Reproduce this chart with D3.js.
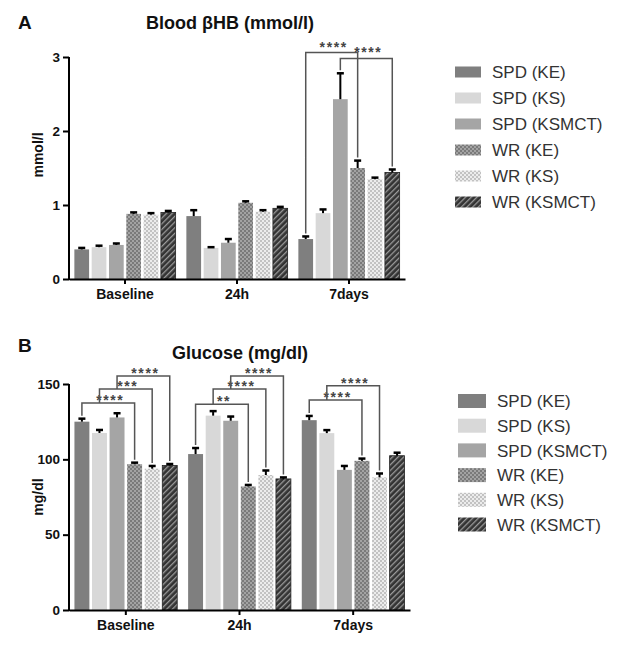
<!DOCTYPE html>
<html>
<head>
<meta charset="utf-8">
<script src="https://cdn.jsdelivr.net/npm/d3@7/dist/d3.min.js"></script>
<style>
  html, body { margin: 0; padding: 0; background: #fff; }
  svg { display: block; font-family: "Liberation Sans", Arial, sans-serif; }
</style>
</head>
<body>
<div id="chart"></div>
<script>
// ---------- DATA ----------
const groups = ["Baseline", "24h", "7days"];
const seriesNames = ["SPD (KE)", "SPD (KS)", "SPD (KSMCT)", "WR (KE)", "WR (KS)", "WR (KSMCT)"];

// Blood βHB (mmol/l): mean per series, one array per time point
const bhbBaseline    = [0.40, 0.43, 0.46, 0.88, 0.87, 0.90];
const bhbBaselineErr = [0.02, 0.02, 0.02, 0.02, 0.02, 0.02];
const bhb24h         = [0.85, 0.42, 0.49, 1.03, 0.91, 0.955];
const bhb24hErr      = [0.08, 0.01, 0.05, 0.02, 0.02, 0.02];
const bhb7days       = [0.54, 0.89, 2.43, 1.50, 1.35, 1.44];
const bhb7daysErr    = [0.035, 0.05, 0.35, 0.10, 0.02, 0.04];
const bhbTicks = [0, 1, 2, 3];

// Glucose (mg/dl)
const gluBaseline    = [125, 117.5, 127.8, 96.8, 93.8, 95.9];
const gluBaselineErr = [2, 2, 2.8, 1, 1.8, 1];
const glu24h         = [103.5, 129, 125.6, 82, 89.6, 87];
const glu24hErr      = [4, 3, 2.8, 1, 3, 1];
const glu7days       = [126, 117.4, 93, 99, 88, 102.4];
const glu7daysErr    = [2.8, 2, 2.6, 1.5, 2.6, 2];
const gluTicks = [0, 50, 100, 150];

// significance brackets: group, from-series index, to-series index, height (data units), label
const bhbBrackets = [
  { group: "7days", from: 0, to: 3, level: 3.06, label: "****" },
  { group: "7days", from: 2, to: 5, level: 2.98, label: "****" }
];
const gluBrackets = [
  { group: "Baseline", from: 0, to: 3, level: 137.4, label: "****" },
  { group: "Baseline", from: 1, to: 4, level: 146.6, label: "***" },
  { group: "Baseline", from: 2, to: 5, level: 155.3, label: "****" },
  { group: "24h", from: 0, to: 3, level: 136.5, label: "**" },
  { group: "24h", from: 1, to: 4, level: 146.6, label: "****" },
  { group: "24h", from: 2, to: 5, level: 155.3, label: "****" },
  { group: "7days", from: 0, to: 3, level: 139.3, label: "****" },
  { group: "7days", from: 1, to: 4, level: 148.8, label: "****" }
];

// ---------- STYLE ----------
const W = 626, H = 648;
const fills = ["#7f7f7f", "#d8d8d8", "#a5a5a5", "url(#patKE)", "url(#patKS)", "url(#patKSMCT)"];

const svg = d3.select("#chart").append("svg").attr("width", W).attr("height", H);
const defs = svg.append("defs");

// WR (KE): dark grey with light checker dots
let p = defs.append("pattern").attr("id", "patKE").attr("patternUnits", "userSpaceOnUse")
  .attr("width", 4).attr("height", 4);
p.append("rect").attr("width", 4).attr("height", 4).attr("fill", "#7a7a7a");
p.append("rect").attr("x", 0).attr("y", 0).attr("width", 2).attr("height", 2).attr("fill", "#a3a3a3");
p.append("rect").attr("x", 2).attr("y", 2).attr("width", 2).attr("height", 2).attr("fill", "#a3a3a3");

// WR (KS): light grey checker
p = defs.append("pattern").attr("id", "patKS").attr("patternUnits", "userSpaceOnUse")
  .attr("width", 4).attr("height", 4);
p.append("rect").attr("width", 4).attr("height", 4).attr("fill", "#ececec");
p.append("rect").attr("x", 0).attr("y", 0).attr("width", 2).attr("height", 2).attr("fill", "#c2c2c2");
p.append("rect").attr("x", 2).attr("y", 2).attr("width", 2).attr("height", 2).attr("fill", "#c2c2c2");

// WR (KSMCT): dark with diagonal light hatch
p = defs.append("pattern").attr("id", "patKSMCT").attr("patternUnits", "userSpaceOnUse")
  .attr("width", 4).attr("height", 4).attr("patternTransform", "rotate(45)");
p.append("rect").attr("width", 4).attr("height", 4).attr("fill", "#333333");
p.append("rect").attr("x", 0).attr("y", 0).attr("width", 1.3).attr("height", 4).attr("fill", "#9a9a9a");

function drawPanel(cfg) {
  const g = svg.append("g");
  const x = d3.scaleBand().domain(groups).range([cfg.x0, cfg.x1]).padding(0);
  const xs = d3.scaleBand().domain(d3.range(seriesNames.length)).range([0, x.bandwidth()])
    .paddingInner(0.15).paddingOuter(0.31);
  const y = d3.scaleLinear().domain([0, cfg.yMax]).range([cfg.yBottom, cfg.yTop]);

  const rows = [];
  groups.forEach((grp, gi) => {
    cfg.means[gi].forEach((v, si) => rows.push({ grp, si, v, e: cfg.errs[gi][si] }));
  });

  // bars
  g.selectAll("rect.bar").data(rows).join("rect")
    .attr("class", "bar")
    .attr("x", d => x(d.grp) + xs(d.si))
    .attr("width", xs.bandwidth())
    .attr("y", d => y(d.v))
    .attr("height", d => y(0) - y(d.v))
    .attr("fill", d => fills[d.si])
    .attr("stroke", d => d.si === 5 ? "#222" : "none")
    .attr("stroke-width", 0.8);

  // error bars (upper)
  const cx = d => x(d.grp) + xs(d.si) + xs.bandwidth() / 2;
  g.selectAll("line.err").data(rows).join("line")
    .attr("x1", cx).attr("x2", cx)
    .attr("y1", d => y(d.v)).attr("y2", d => y(d.v + d.e))
    .attr("stroke", "#000").attr("stroke-width", 2);
  g.selectAll("line.cap").data(rows).join("line")
    .attr("x1", d => cx(d) - 3.5).attr("x2", d => cx(d) + 3.5)
    .attr("y1", d => y(d.v + d.e)).attr("y2", d => y(d.v + d.e))
    .attr("stroke", "#000").attr("stroke-width", 2.5);

  // axes
  const yAxis = d3.axisLeft(y).tickValues(cfg.ticks).tickSize(6).tickSizeOuter(0).tickPadding(3)
    .tickFormat(d3.format("d"));
  const ya = g.append("g").attr("transform", `translate(${cfg.x0},0)`).call(yAxis);
  const xAxis = d3.axisBottom(x).tickSize(5).tickSizeOuter(0).tickPadding(5);
  const xa = g.append("g").attr("transform", `translate(0,${cfg.yBottom})`).call(xAxis);
  [ya, xa].forEach(a => {
    a.select(".domain").attr("stroke", "#000").attr("stroke-width", 2);
    a.selectAll(".tick line").attr("stroke", "#000").attr("stroke-width", 2);
    a.selectAll(".tick text").attr("fill", "#111").attr("font-weight", "bold")
      .attr("font-family", "Liberation Sans, Arial, sans-serif");
  });
  ya.selectAll(".tick text").attr("font-size", 13.5);
  xa.selectAll(".tick text").attr("font-size", 14);
  ya.select(".domain").attr("d", `M0,${cfg.yBottom + 1}V${cfg.yTop}`);

  // brackets
  const barX = (grp, si) => x(grp) + xs(si) + xs.bandwidth() / 2;
  const topOf = (grp, si) => {
    const gi = groups.indexOf(grp);
    return y(cfg.means[gi][si] + cfg.errs[gi][si]) - 3;
  };
  cfg.brackets.forEach(b => {
    const by = y(b.level);
    const xl = barX(b.group, b.from), xr = barX(b.group, b.to);
    // left leg stops on a lower bracket that spans it
    let leftBottom = topOf(b.group, b.from);
    cfg.brackets.forEach(c => {
      if (c !== b && c.group === b.group && y(c.level) > by && c.from < b.from && c.to > b.from) {
        leftBottom = Math.min(leftBottom, y(c.level));
      }
    });
    const rightBottom = topOf(b.group, b.to);
    g.append("path")
      .attr("d", `M${xl},${leftBottom}V${by}H${xr}V${rightBottom}`)
      .attr("fill", "none").attr("stroke", "#555").attr("stroke-width", 1.5);
    g.append("text")
      .attr("x", (xl + xr) / 2 + 2).attr("y", by - cfg.starGap)
      .attr("text-anchor", "middle")
      .attr("font-size", 14).attr("font-weight", "bold").attr("letter-spacing", 1.6).attr("fill", "#444")
      .text(b.label);
  });

  // titles
  svg.append("text").attr("x", cfg.titleX).attr("y", cfg.titleY).attr("text-anchor", "middle")
    .attr("font-size", 18).attr("font-weight", "bold").attr("fill", "#111").text(cfg.title);
  svg.append("text").attr("x", 18).attr("y", cfg.letterY).attr("font-size", 19)
    .attr("font-weight", "bold").attr("fill", "#111").text(cfg.letter);
  svg.append("text")
    .attr("transform", `translate(${cfg.yLabelX},${cfg.yLabelY}) rotate(-90)`)
    .attr("text-anchor", "middle").attr("font-size", 14).attr("font-weight", "bold").attr("fill", "#111")
    .text(cfg.yLabel);

  // legend
  const lg = svg.append("g");
  seriesNames.forEach((s, i) => {
    const cy = cfg.legY + i * cfg.legStep;
    lg.append("rect").attr("x", cfg.legX).attr("y", cy - cfg.swH / 2)
      .attr("width", cfg.swW).attr("height", cfg.swH).attr("fill", fills[i]);
    lg.append("text").attr("x", cfg.legX + cfg.swW + 11).attr("y", cy)
      .attr("dy", "0.36em").attr("font-size", 17).attr("fill", "#333").text(s);
  });
}

drawPanel({
  title: "Blood βHB (mmol/l)", letter: "A", yLabel: "mmol/l",
  titleX: 230, titleY: 29, letterY: 29, yLabelX: 43, yLabelY: 155,
  x0: 69, x1: 405, yTop: 57, yBottom: 279, yMax: 3, ticks: bhbTicks,
  means: [bhbBaseline, bhb24h, bhb7days], errs: [bhbBaselineErr, bhb24hErr, bhb7daysErr],
  brackets: bhbBrackets, starGap: 1,
  legX: 455, legY: 72, legStep: 26, swW: 26, swH: 11
});

drawPanel({
  title: "Glucose (mg/dl)", letter: "B", yLabel: "mg/dl",
  titleX: 240, titleY: 359, letterY: 352, yLabelX: 43, yLabelY: 497,
  x0: 69, x1: 410, yTop: 384, yBottom: 610, yMax: 150, ticks: gluTicks,
  means: [gluBaseline, glu24h, glu7days], errs: [gluBaselineErr, glu24hErr, glu7daysErr],
  brackets: gluBrackets, starGap: -2,
  legX: 458, legY: 401, legStep: 24.7, swW: 28, swH: 14
});
</script>
</body>
</html>
